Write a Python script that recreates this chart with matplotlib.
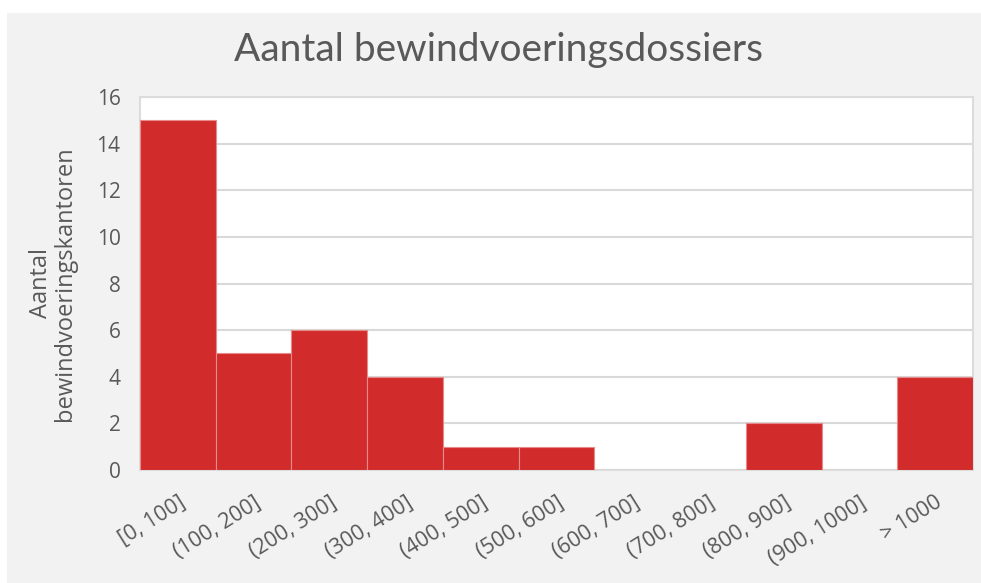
import matplotlib.pyplot as plt
from matplotlib.patches import Rectangle

# Data
categories = ['[0, 100]', '(100, 200]', '(200, 300]', '(300, 400]', '(400, 500]',
              '(500, 600]', '(600, 700]', '(700, 800]', '(800, 900]', '(900, 1000]',
              '> 1000']
counts = [15, 5, 6, 4, 1, 1, 0, 0, 2, 0, 4]

plt.rcParams['font.family'] = ['Open Sans', 'DejaVu Sans']
text_color = '#595959'
bar_color = '#d22b2b'

fig = plt.figure(figsize=(9.81, 5.83), dpi=100, facecolor='white')
# grey background panel
fig.patches.append(Rectangle((7 / 981, 0), 1, 1 - 13 / 583, transform=fig.transFigure,
                             facecolor='#f2f2f2', edgecolor='none', zorder=-10))

ax = fig.add_axes([140 / 981, 1 - 470 / 583, (973 - 140) / 981, (470 - 97) / 583])
ax.set_zorder(1)
ax.set_facecolor('white')

x = range(len(categories))
ax.bar(x, counts, width=1.0, color=bar_color, edgecolor='#e88a8a', linewidth=0.8, zorder=3)

ax.set_xlim(-0.5, len(categories) - 0.5)
ax.set_ylim(0, 16)
ax.set_yticks(range(0, 17, 2))
ax.set_xticks(list(x))
ax.set_xticklabels(categories, rotation=32, ha='right', rotation_mode='anchor',
                   fontsize=15.5, color=text_color)
ax.tick_params(axis='y', labelsize=15, colors=text_color, length=0, pad=14)
ax.tick_params(axis='x', length=0, pad=16)

ax.grid(axis='y', color='#d9d9d9', linewidth=1.5, zorder=0)
for side in ax.spines.values():
    side.set_color('#dcdcdc')
    side.set_linewidth(1.5)

ax.set_ylabel('Aantal\nbewindvoeringskantoren', fontsize=17, color=text_color,
              labelpad=14, linespacing=1.0)

fig.text(0.508, 0.914, 'Aantal bewindvoeringsdossiers', ha='center', va='center',
         fontsize=28, color=text_color, family=['Lato', 'DejaVu Sans'])

fig.savefig('out.png', dpi=100)
